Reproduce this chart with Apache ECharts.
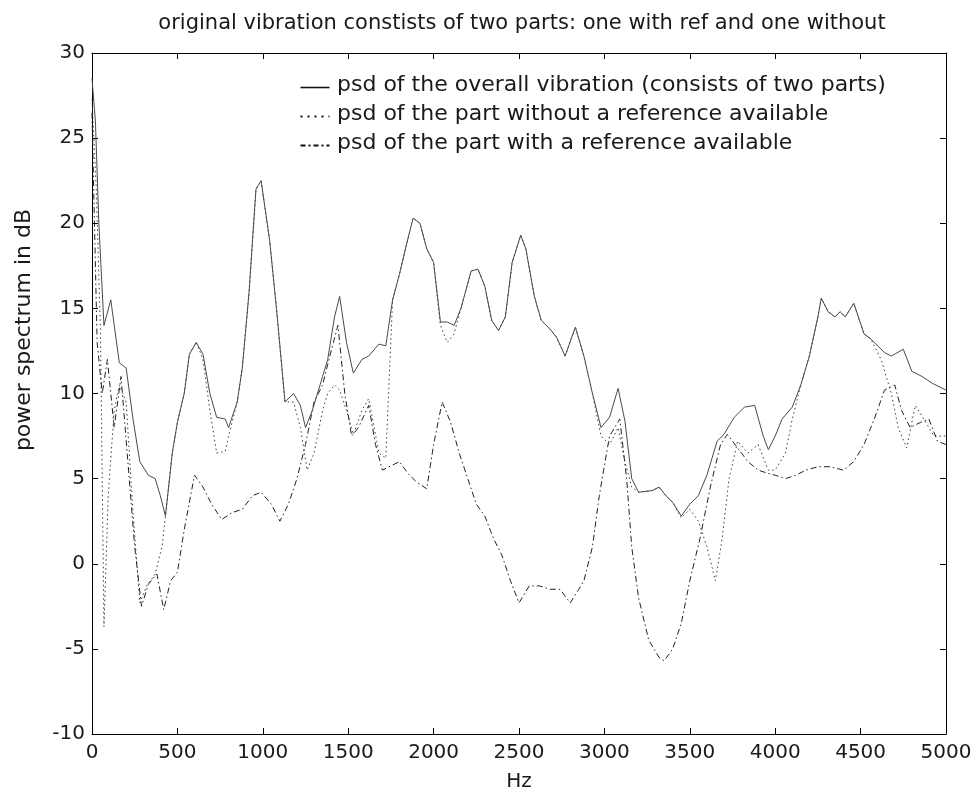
<!DOCTYPE html>
<html>
<head>
<meta charset="utf-8">
<script src="https://cdn.jsdelivr.net/npm/echarts@6/dist/echarts.min.js"></script>
<style>
  html, body { margin: 0; padding: 0; background: #fff; }
  #chart { width: 977px; height: 805px; }
</style>
</head>
<body>
<div id="chart"></div>
<script>
// Overall vibration PSD (dB) sampled at these frequencies (Hz)
const overallFreq = [0, 20, 40, 70, 110, 160, 200, 240, 280, 330, 370, 400, 430, 470, 500, 540, 570, 610, 650, 690, 730, 780, 800, 850, 880, 920, 960, 990, 1040, 1080, 1130, 1180, 1220, 1250, 1290, 1350, 1380, 1420, 1450, 1490, 1530, 1580, 1620, 1680, 1720, 1760, 1800, 1840, 1880, 1920, 1960, 2000, 2040, 2080, 2120, 2160, 2220, 2260, 2300, 2340, 2380, 2420, 2460, 2510, 2540, 2590, 2630, 2680, 2720, 2770, 2830, 2880, 2930, 2980, 3030, 3080, 3120, 3160, 3200, 3280, 3320, 3360, 3400, 3450, 3500, 3550, 3600, 3660, 3700, 3760, 3820, 3880, 3930, 3960, 4000, 4040, 4100, 4150, 4200, 4250, 4270, 4310, 4350, 4380, 4410, 4460, 4520, 4560, 4640, 4680, 4750, 4800, 4860, 4920, 5000];
const overallDb = [28.5, 26, 20, 14, 15.5, 11.8, 11.5, 8.5, 6, 5.2, 5, 4, 2.8, 6.5, 8.3, 10, 12.3, 13, 12.3, 10, 8.6, 8.5, 8, 9.5, 11.5, 16, 22, 22.5, 19, 15, 9.5, 10, 9.3, 8, 9, 11, 12, 14.5, 15.7, 13, 11.2, 12, 12.2, 12.9, 12.8, 15.5, 17, 18.7, 20.3, 20, 18.5, 17.7, 14.2, 14.2, 14, 15, 17.2, 17.3, 16.3, 14.3, 13.7, 14.5, 17.7, 19.3, 18.5, 15.7, 14.3, 13.8, 13.3, 12.2, 13.9, 12.2, 10, 8, 8.6, 10.3, 8.4, 5, 4.2, 4.3, 4.5, 4, 3.6, 2.8, 3.5, 4, 5.2, 7.2, 7.6, 8.6, 9.2, 9.3, 7.5, 6.7, 7.5, 8.5, 9.2, 10.5, 12.2, 14.5, 15.6, 14.8, 14.5, 14.8, 14.5, 15.3, 13.5, 13.2, 12.4, 12.2, 12.6, 11.3, 11, 10.6, 10.2];

// Part without a reference available
const noRefFreq = [0, 25, 50, 70, 95, 130, 160, 200, 240, 280, 320, 370, 410, 430, 470, 500, 540, 570, 610, 650, 690, 730, 780, 800, 850, 880, 920, 960, 990, 1040, 1080, 1130, 1180, 1220, 1260, 1300, 1350, 1380, 1420, 1450, 1490, 1530, 1580, 1620, 1680, 1720, 1760, 1800, 1840, 1880, 1920, 1960, 2000, 2040, 2080, 2120, 2160, 2220, 2260, 2300, 2340, 2380, 2420, 2460, 2510, 2540, 2590, 2630, 2680, 2720, 2770, 2830, 2880, 2930, 2980, 3030, 3080, 3120, 3160, 3200, 3280, 3320, 3360, 3400, 3450, 3500, 3550, 3600, 3650, 3690, 3730, 3780, 3840, 3900, 3960, 4000, 4060, 4100, 4150, 4200, 4250, 4270, 4310, 4350, 4380, 4410, 4460, 4520, 4560, 4620, 4680, 4720, 4770, 4820, 4870, 4930, 5000];
const noRefDb = [27.3, 22, 13.5, -3.7, 4, 9, 10.5, 9.5, 3, -2.3, -1.3, -0.6, 1, 2.8, 6.5, 8.3, 10, 12.3, 13, 12, 9, 6.5, 6.6, 7.5, 9.5, 11.5, 16, 22, 22.5, 19, 15, 9.5, 9.5, 8, 5.5, 6.5, 9, 10, 10.5, 10.2, 9, 7.6, 9, 9.7, 6.5, 6.2, 15.5, 17, 18.7, 20.3, 20, 18.5, 17.7, 14, 13, 13.5, 15, 17.2, 17.3, 16.3, 14.3, 13.7, 14.5, 17.7, 19.3, 18.5, 15.7, 14.3, 13.8, 13.3, 12.2, 13.9, 12.2, 10, 7.5, 7, 8, 6, 4.5, 4.2, 4.3, 4.5, 4, 3.6, 2.7, 3.2, 2.5, 1, -1, 1.5, 5, 7.2, 6.5, 7, 5.5, 5.5, 6.5, 8.5, 10.5, 12.2, 14.5, 15.6, 14.8, 14.5, 14.8, 14.5, 15.3, 13.5, 13.2, 12, 10, 8, 6.8, 9.3, 8.5, 7.5, 7.5];

// Part with a reference available
const withRefFreq = [0, 30, 60, 90, 130, 170, 210, 250, 290, 330, 380, 420, 460, 500, 540, 600, 650, 700, 760, 820, 880, 940, 990, 1050, 1100, 1150, 1200, 1250, 1300, 1350, 1400, 1440, 1480, 1520, 1560, 1620, 1660, 1700, 1760, 1800, 1850, 1900, 1960, 2000, 2050, 2100, 2150, 2200, 2250, 2300, 2350, 2400, 2450, 2500, 2560, 2620, 2680, 2740, 2800, 2850, 2880, 2930, 2970, 3030, 3090, 3130, 3160, 3200, 3260, 3320, 3350, 3400, 3450, 3500, 3560, 3620, 3680, 3720, 3780, 3840, 3900, 3960, 4000, 4060, 4120, 4180, 4250, 4320, 4400, 4460, 4520, 4580, 4640, 4700, 4740, 4790, 4850, 4900, 4950, 5000];
const withRefDb = [26.5, 13, 10, 12, 8, 11, 6, 1, -2.5, -1.2, -0.6, -2.7, -1, -0.5, 2, 5.2, 4.5, 3.5, 2.6, 3, 3.2, 4, 4.2, 3.5, 2.5, 3.5, 5, 7, 9.5, 10.5, 12.5, 14, 10, 7.5, 8, 9.3, 7, 5.5, 5.8, 6, 5.3, 4.8, 4.4, 7, 9.5, 8.3, 6.5, 5, 3.5, 2.8, 1.5, 0.5, -1, -2.3, -1.3, -1.3, -1.5, -1.5, -2.3, -1.5, -1, 1, 4, 7.5, 8.5, 5, 1, -2, -4.5, -5.5, -5.7, -5, -3.5, -1, 1.5, 4.5, 7, 7.6, 6.8, 6, 5.5, 5.3, 5.2, 5, 5.2, 5.5, 5.7, 5.7, 5.5, 6, 7, 8.5, 10.2, 10.5, 9, 8, 8.3, 8.5, 7.2, 7];

// Axis ticks
const xTicks = [0, 500, 1000, 1500, 2000, 2500, 3000, 3500, 4000, 4500, 5000];
const yTicks = [-10, -5, 0, 5, 10, 15, 20, 25, 30];

// Legend entries
const legendLabels = [
  'psd of the overall vibration (consists of two parts)',
  'psd of the part without a reference available',
  'psd of the part with a reference available'
];

const pairs = (fs, vs) => fs.map((f, i) => [f, vs[i]]);

const FONT = 'DejaVu Sans';
const INK = '#1a1a1a';
const chart = echarts.init(document.getElementById('chart'), null, { renderer: 'canvas' });

const G = { left: 92, right: 31, top: 53, bottom: 71 };
const tickStyle = { show: true, inside: true, length: 6, lineStyle: { color: '#000', width: 1 } };
const lineAxis = { show: true, onZero: false, lineStyle: { color: '#000', width: 1 } };

const lineStyles = [
  { color: '#4a4a4a', width: 1, type: 'solid' },
  { color: '#3a3a3a', width: 1, type: [1.5, 3] },
  { color: '#222', width: 1, type: [6, 3, 1.5, 3] }
];
const legendSamples = [
  { lineDash: null, lineWidth: 1.6 },
  { lineDash: [2, 5], lineWidth: 2 },
  { lineDash: [5, 3, 2, 3], lineWidth: 1.8 }
];
const legendRowsY = [86, 115, 144];

const graphics = [];
legendLabels.forEach((label, i) => {
  graphics.push({
    type: 'line', left: 298, top: legendRowsY[i] - 1,
    shape: { x1: 0, y1: 0, x2: 29, y2: 0 },
    style: { stroke: '#111', lineWidth: legendSamples[i].lineWidth, lineDash: legendSamples[i].lineDash }
  });
  graphics.push({
    type: 'text', left: 337, top: legendRowsY[i] - 12,
    style: { text: label, fill: INK, font: '22px "DejaVu Sans"' }
  });
});
// Vertical y-axis caption
graphics.push({
  type: 'text', x: 13, y: 330, rotation: Math.PI / 2,
  style: { text: 'power spectrum in dB', fill: INK, font: '22px "DejaVu Sans"', textAlign: 'center', textVerticalAlign: 'top' }
});

chart.setOption({
  animation: false,
  backgroundColor: '#fff',
  title: {
    text: 'original vibration constists of two parts: one with ref and one without',
    left: 517, top: 8, textAlign: 'center',
    textStyle: { fontFamily: FONT, fontWeight: 'normal', fontSize: 21, color: INK }
  },
  grid: Object.assign({ show: false }, G),
  xAxis: [
    {
      type: 'value', position: 'bottom', min: 0, max: 5000, interval: 500,
      axisLine: lineAxis, axisTick: tickStyle, splitLine: { show: false },
      name: 'Hz', nameLocation: 'middle', nameGap: 38,
      nameTextStyle: { fontFamily: FONT, fontSize: 20, color: INK },
      axisLabel: { fontFamily: FONT, fontSize: 20, color: INK, margin: 9,
        formatter: v => (xTicks.includes(v) ? String(v) : '') }
    },
    {
      type: 'value', position: 'top', min: 0, max: 5000, interval: 500,
      axisLine: lineAxis, axisTick: tickStyle, splitLine: { show: false },
      axisLabel: { show: false }
    }
  ],
  yAxis: [
    {
      type: 'value', min: -10, max: 30, interval: 5, position: 'left',
      axisLine: lineAxis, axisTick: tickStyle, splitLine: { show: false },
      axisLabel: { fontFamily: FONT, fontSize: 20, color: INK, margin: 7,
        formatter: v => (yTicks.includes(v) ? String(v) : '') }
    },
    {
      type: 'value', min: -10, max: 30, interval: 5, position: 'right',
      axisLine: lineAxis, axisTick: tickStyle, splitLine: { show: false },
      axisLabel: { show: false }
    }
  ],
  graphic: graphics,
  series: [
    {
      name: legendLabels[0], type: 'line', data: pairs(overallFreq, overallDb),
      showSymbol: false, symbol: 'none', lineStyle: lineStyles[0], z: 3
    },
    {
      name: legendLabels[1], type: 'line', data: pairs(noRefFreq, noRefDb),
      showSymbol: false, symbol: 'none', lineStyle: lineStyles[1], z: 2
    },
    {
      name: legendLabels[2], type: 'line', data: pairs(withRefFreq, withRefDb),
      showSymbol: false, symbol: 'none', lineStyle: lineStyles[2], z: 2
    }
  ]
});
</script>
</body>
</html>
